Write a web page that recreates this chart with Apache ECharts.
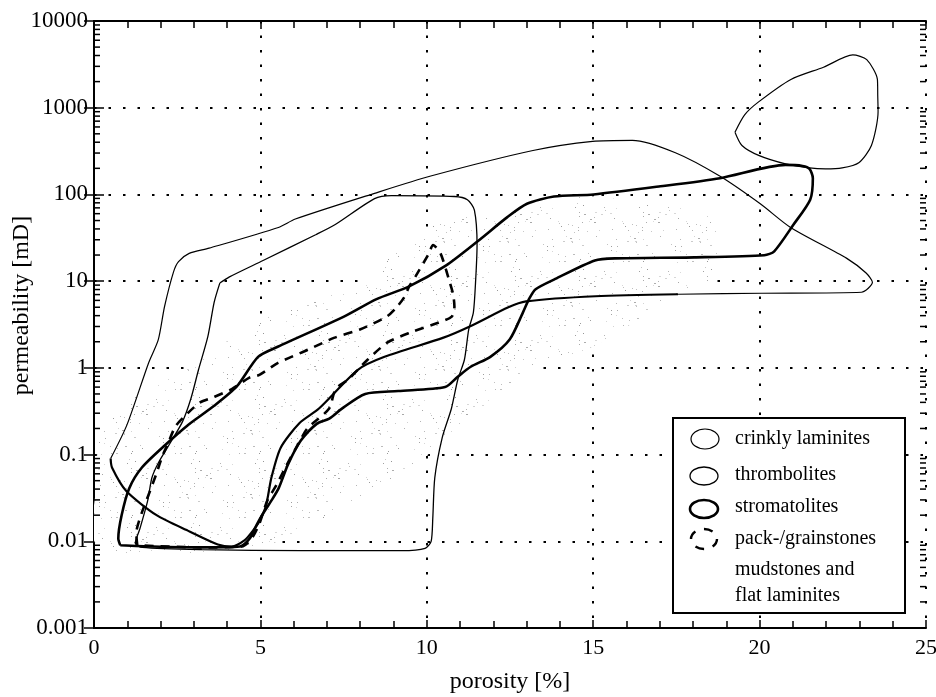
<!DOCTYPE html>
<html><head><meta charset="utf-8">
<script src="https://cdn.jsdelivr.net/npm/echarts@6/dist/echarts.min.js"></script>
<style>html,body{margin:0;padding:0;background:#fff}#c{width:936px;height:697px}</style>
</head><body><div id="c"></div>
<script>
// ---- axis ticks ----
const xTickValues = [0, 5, 10, 15, 20, 25];
const xTickLabels = ['0', '5', '10', '15', '20', '25'];
const yTickValues = [0.001, 0.01, 0.1, 1, 10, 100, 1000, 10000];
const yTickLabels = ['0.001', '0.01', '0.1', '1', '10', '100', '1000', '10000'];
const yMinorMantissas = [2, 3, 4, 5, 6, 7, 8, 9];

// ---- field outlines: [porosity %, permeability mD] ----
const crinklyLaminites = [
  [0.50,0.09],[0.99,0.22],[1.64,1.14],[1.93,2.1],[2.12,5.1],[2.39,12.8],[2.54,16.8],[2.86,20.9],
  [3.46,24],[5.54,41.6],[6.05,52],[8.43,103],[10.12,163],[13.19,321],[14.98,409],[16.18,421],
  [17.47,303],[18.80,163],[20.02,78],[20.93,41.6],[22.62,18.3],[23.20,12.4],[23.39,9.7],[23.06,7.45],
  [20.07,7.25],[17.55,7.06],
  [15.07,6.7],[12.98,5.85],[12.45,5.0],[11.29,3.0],[10.5,2.23],[8.73,1.34],[7.93,0.95],[6.76,0.34],
  [6.17,0.23],[5.61,0.12],[5.33,0.054],[5.17,0.026],[4.97,0.017],[4.76,0.013],[4.53,0.0103],
  [4.14,0.0087],[3.72,0.0092],[2.87,0.013],[1.88,0.020],[0.97,0.038],[0.54,0.071],[0.50,0.09]
];
const crinklySplit = 25; // index where the lower (heavier) edge starts

const thrombolites = [
  [3.78,9.5],[4.07,11.2],[5.08,17.3],[6.66,34.3],[7.25,45],[8.43,89.6],[8.94,97],[10.83,94.6],
  [11.22,87],[11.43,66],[11.51,26],[11.47,10.6],[11.40,4.36],[11.26,2.77],[11.13,1.24],[10.93,0.73],
  [10.74,0.34],[10.46,0.155],[10.24,0.054],[10.18,0.0185],[10.13,0.010],[9.95,0.0083],[9.24,0.0078],
  [6.25,0.0078],[3.24,0.0080],[1.45,0.0085],[1.24,0.0095],[1.38,0.014],[1.61,0.029],[1.74,0.054],
  [1.94,0.081],[2.29,0.136],[2.66,0.24],[2.91,0.44],[3.14,0.95],[3.42,2.29],[3.61,5.7],[3.78,9.5]
];
const thrombolitesLobe = [
  [19.26,522],[19.55,828],[19.96,1160],[20.94,2120],[21.92,2930],[22.80,4060],[23.22,3580],
  [23.54,2120],[23.55,1380],[23.56,900],[23.36,367],[22.98,232],[22.48,202],[21.98,197],
  [21.50,202],[20.78,225],[19.99,280],[19.47,367],[19.26,522]
];
const stromatolites = [
  [0.79,0.0090],[0.73,0.0108],[0.83,0.020],[1.06,0.041],[1.44,0.071],[2.14,0.129],[2.81,0.217],
  [3.61,0.365],[4.29,0.61],[4.93,1.34],[5.52,1.75],[7.51,3.9],[8.49,6.2],[9.47,8.7],[10.57,15.1],
  [11.54,29.1],[12.42,54.7],[13.01,78],[13.82,94.6],[15.01,100],[17.02,124],[18.81,154],[20.78,219],
  [21.29,213],[21.50,197],[21.60,154],[21.52,87],[21.02,45],[20.44,22.1],[20.14,19.9],[18.04,18.8],
  [15.65,18.3],[15.05,17.3],[13.86,10.6],[13.27,8.07],[13.07,6.2],[12.89,4.36],[12.49,2.12],
  [11.91,1.34],[11.32,1.03],[10.93,0.79],[10.55,0.60],[9.14,0.54],[8.15,0.50],[7.44,0.337],
  [7.07,0.26],[6.71,0.229],[6.21,0.144],[5.83,0.077],[5.55,0.041],[5.32,0.029],[5.05,0.020],
  [4.88,0.0153],[4.68,0.0108],[4.38,0.0087],[3.24,0.0085],[1.75,0.0087],[0.79,0.0090]
];
const packGrainstones = [
  [1.30,0.0090],[1.27,0.0124],[1.43,0.021],[1.66,0.036],[1.86,0.058],[2.06,0.097],[2.23,0.136],
  [2.45,0.212],[2.80,0.296],[3.19,0.40],[3.60,0.46],[4.14,0.57],[4.67,0.77],[4.97,0.83],[5.53,1.14],
  [6.43,1.62],[7.23,2.23],[7.99,2.77],[8.80,3.92],[9.09,4.99],[9.32,6.5],[9.47,8.7],[9.67,11.5],
  [10.05,20.4],[10.19,26],[10.41,21],[10.66,10.6],[10.79,7.06],[10.83,5.1],[10.75,3.9],[10.36,3.33],
  [9.50,2.55],[8.81,1.95],[8.22,1.24],[7.63,0.73],[7.26,0.57],[7.06,0.337],[6.41,0.20],[6.12,0.129],
  [5.75,0.071],[5.49,0.045],[5.20,0.029],[4.97,0.016],[4.74,0.0108],[4.44,0.0087],[3.24,0.0085],
  [1.30,0.0090]
];
const mudstones = [
  [0.16,0.0087],[0.09,0.054],[0.19,0.155],[1.06,0.44],[2.84,1.0],[4.85,3.3],[8.09,10],[9.77,38],
  [12.62,68],[15.02,95],[16.52,76],[18.01,68],[18.68,44],[18.70,17.3],[18.45,9.7],[17.76,7.9],
  [15.10,1.85],[13.23,1.0],[11.55,0.30],[9.90,0.092],[7.42,0.024],[4.98,0.0087]
];

const legendNames = ['crinkly laminites', 'thrombolites', 'stromatolites', 'pack-/grainstones', 'mudstones and', 'flat laminites'];

// ---- stipple texture (deterministic hash, sparse light dots) ----
function stipple() {
  const N = 64;
  const c = document.createElement('canvas');
  c.width = N; c.height = N;
  const g = c.getContext('2d');
  g.fillStyle = '#ffffff'; g.fillRect(0, 0, N, N);
  const h = (i, k) => { const s = Math.sin(i * 127.1 + k * 311.7) * 43758.5453; return s - Math.floor(s); };
  for (let i = 0; i < 55; i++) {
    const x = Math.floor(h(i, 1) * N), y = Math.floor(h(i, 2) * N);
    const shade = 150 + Math.floor(h(i, 3) * 70);
    g.fillStyle = 'rgb(' + shade + ',' + shade + ',' + shade + ')';
    g.fillRect(x, y, h(i, 4) < 0.25 ? 2 : 1, 1);
  }
  return c;
}
const stippleFill = { image: stipple(), repeat: 'repeat' };

const serif = '"Liberation Serif", "DejaVu Serif", serif';
const minorData = [];
for (let k = -3; k <= 3; k++) yMinorMantissas.forEach(m => minorData.push([0, m * Math.pow(10, k)]));

function lineSeries(name, data, width, type, z) {
  return {
    name, type: 'line', data, smooth: 0.25, symbol: 'none', z: z || 3, silent: true,
    lineStyle: { color: '#000', width, type: type || 'solid' }
  };
}

const chart = echarts.init(document.getElementById('c'), null, { renderer: 'canvas' });
chart.setOption({
  animation: false,
  backgroundColor: '#fff',
  grid: { left: 94, right: 10, top: 21, bottom: 69, containLabel: false, outerBoundsMode: 'none' },
  xAxis: [{
    type: 'value', min: 0, max: 25, interval: 5, position: 'bottom',
    name: 'porosity [%]', nameLocation: 'middle', nameGap: 42, nameMoveOverlap: false,
    nameTextStyle: { fontFamily: serif, fontSize: 24, color: '#000' },
    axisLine: { show: true, lineStyle: { color: '#000', width: 2 } },
    axisTick: { show: true, inside: true, length: 8, lineStyle: { color: '#000', width: 1.5 } },
    minorTick: { show: true, splitNumber: 5, length: 7, lineStyle: { color: '#000', width: 1.5 } },
    axisLabel: { fontFamily: serif, fontSize: 22, color: '#000', margin: 9,
      formatter: v => { const i = xTickValues.indexOf(v); return i >= 0 ? xTickLabels[i] : ''; } },
    splitLine: { show: true, lineStyle: { color: '#000', width: 2, type: [2.5, 12] } }
  }, {
    type: 'value', min: 0, max: 25, interval: 5, position: 'top',
    axisLine: { show: true, lineStyle: { color: '#000', width: 2 } },
    axisTick: { show: true, inside: true, length: 8, lineStyle: { color: '#000', width: 1.5 } },
    minorTick: { show: true, splitNumber: 5, length: 7, lineStyle: { color: '#000', width: 1.5 } },
    axisLabel: { show: false }, splitLine: { show: false }
  }],
  yAxis: [{
    type: 'log', logBase: 10, min: 0.001, max: 10000, position: 'left',
    name: 'permeability [mD]', nameLocation: 'middle', nameGap: 60, nameRotate: 90, nameMoveOverlap: false,
    nameTextStyle: { fontFamily: serif, fontSize: 24, color: '#000', padding: [0, 0, 0, 38] },
    axisLine: { show: true, lineStyle: { color: '#000', width: 2 } },
    axisTick: { show: true, inside: true, length: 10, lineStyle: { color: '#000', width: 1.5 } },
    axisLabel: { fontFamily: serif, fontSize: 23, color: '#000', margin: 6,
      formatter: v => { const i = yTickValues.findIndex(t => Math.abs(Math.log10(t) - Math.log10(v)) < 1e-6); return i >= 0 ? yTickLabels[i] : ''; } },
    splitLine: { show: true, lineStyle: { color: '#000', width: 2, type: [2.5, 12] } }
  }, {
    type: 'log', logBase: 10, min: 0.001, max: 10000, position: 'right',
    axisLine: { show: true, lineStyle: { color: '#000', width: 2 } },
    axisTick: { show: true, inside: true, length: 10, lineStyle: { color: '#000', width: 1.5 } },
    axisLabel: { show: false }, splitLine: { show: false }
  }],
  series: [
    {
      name: 'mudstones and flat laminites', type: 'custom', z: 1, silent: true, clip: true,
      data: mudstones,
      renderItem: (params, api) => {
        if (params.dataIndex !== 0) return null;
        const pts = mudstones.map(p => api.coord(p));
        return { type: 'polygon', shape: { points: pts, smooth: 0.3 }, style: { fill: stippleFill, stroke: null } };
      }
    },
    {
      name: 'minor ticks', type: 'custom', z: 5, silent: true, clip: false,
      data: minorData,
      renderItem: (params, api) => {
        const v = api.value(1);
        const l = api.coord([0, v]);
        const r = api.coord([25, v]);
        return { type: 'group', children: [
          { type: 'line', shape: { x1: l[0], y1: l[1], x2: l[0] + 6, y2: l[1] }, style: { stroke: '#000', lineWidth: 1.5 } },
          { type: 'line', shape: { x1: r[0] - 6, y1: r[1], x2: r[0], y2: r[1] }, style: { stroke: '#000', lineWidth: 1.5 } }
        ] };
      }
    },
    lineSeries('crinkly laminites', crinklyLaminites.slice(0, crinklySplit + 1), 1.2),
    lineSeries('crinkly laminites (lower edge)', crinklyLaminites.slice(crinklySplit), 2.2),
    lineSeries('thrombolites', thrombolites, 1.3),
    lineSeries('thrombolites (upper lobe)', thrombolitesLobe, 1.2),
    lineSeries('stromatolites', stromatolites, 2.6),
    lineSeries('pack-/grainstones', packGrainstones, 2.6, [9, 7])
  ],
  graphic: [
    { type: 'rect', z: 100, shape: { x: 673, y: 418, width: 232, height: 195 }, style: { fill: '#fff', stroke: '#000', lineWidth: 2 } },
    { type: 'ellipse', z: 101, shape: { cx: 705, cy: 439, rx: 14, ry: 10 }, style: { fill: null, stroke: '#000', lineWidth: 1.2 } },
    { type: 'ellipse', z: 101, shape: { cx: 704, cy: 476, rx: 14, ry: 9 }, style: { fill: null, stroke: '#000', lineWidth: 1.3 } },
    { type: 'ellipse', z: 101, shape: { cx: 704, cy: 509, rx: 14, ry: 9 }, style: { fill: null, stroke: '#000', lineWidth: 2.6 } },
    { type: 'ellipse', z: 101, shape: { cx: 704, cy: 539, rx: 13, ry: 10 }, style: { fill: null, stroke: '#000', lineWidth: 2.4, lineDash: [9, 9] } },
    ...legendNames.map((t, i) => ({
      type: 'text', z: 101, x: 735, y: [439, 475, 507, 539, 570, 596][i],
      style: { text: t, font: '20px ' + serif, fill: '#000', verticalAlign: 'middle', textVerticalAlign: 'middle', align: 'left', textAlign: 'left' }
    }))
  ]
});
</script>
</body></html>
